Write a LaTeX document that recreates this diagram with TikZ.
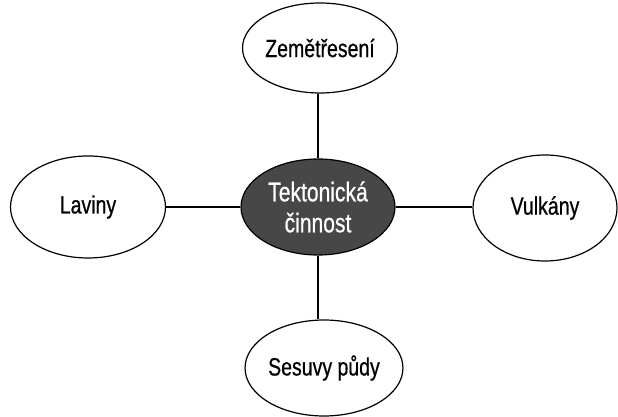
\documentclass[tikz,border=0pt]{standalone}
\usepackage{fontspec}
\setmainfont[FakeStretch=0.78,FakeBold=0.6]{Liberation Sans}
\usetikzlibrary{shapes.geometric}
\begin{document}
\begin{tikzpicture}[x=1pt,y=1pt,
    bubble/.style={ellipse, draw, line width=1.2pt, inner sep=0pt,
                   font=\fontsize{25}{29}\selectfont},
    link/.style={line width=1.4pt}]
  \useasboundingbox (0,0) rectangle (618,417);
  \node[bubble, minimum width=154, minimum height=96, fill=black!72,
        text=white, align=center, font=\fontsize{27}{31}\selectfont] (tekt) at (318,210) {Tektonická\\činnost};
  \node[bubble, minimum width=155, minimum height=90, fill=white] (zem) at (320,369) {Zemětřesení};
  \node[bubble, minimum width=155, minimum height=102, fill=white] (lav) at (88,210) {Laviny};
  \node[bubble, minimum width=144, minimum height=106, fill=white] (vul) at (545,209) {Vulkány};
  \node[bubble, minimum width=142, minimum height=96, fill=white] (ses) at (324,49) {Sesuvy půdy};
  \draw[link] (tekt.north) -- (tekt.north |- zem.south);
  \draw[link] (tekt.south) -- (tekt.south |- ses.north);
  \draw[link] (tekt.west) -- (lav.east |- tekt.west);
  \draw[link] (tekt.east) -- (vul.west |- tekt.east);
\end{tikzpicture}
\end{document}
